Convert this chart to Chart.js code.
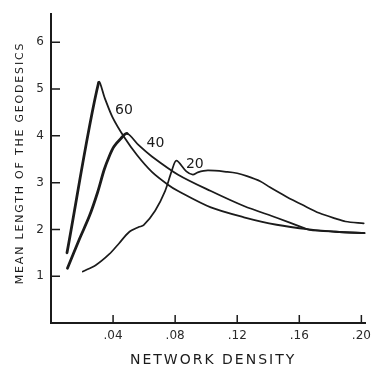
<!DOCTYPE html>
<html>
<head>
<meta charset="utf-8">
<script src="https://cdn.jsdelivr.net/npm/chart.js@4.4.1/dist/chart.umd.min.js"></script>
<style>
  html, body { margin: 0; padding: 0; background: #fff; }
  #wrap { width: 377px; height: 370px; }
</style>
</head>
<body>
<div id="wrap"><canvas id="geodesics-chart"></canvas></div>
<script>
// network sizes, one curve each
const seriesNames = ["60", "40", "20"];

const density60 = [0.0103, 0.0307, 0.0347, 0.0396, 0.0470, 0.0554, 0.0650, 0.0756, 0.0819, 0.1030, 0.1243, 0.1454, 0.1665, 0.1835, 0.2025];
const length60 = [1.50, 5.14, 4.80, 4.40, 3.98, 3.59, 3.23, 2.95, 2.82, 2.47, 2.26, 2.10, 2.00, 1.95, 1.92];

const density40 = [0.0106, 0.0184, 0.0248, 0.0300, 0.0343, 0.0375, 0.0406, 0.0449, 0.0491, 0.0565, 0.0650, 0.0819, 0.1030, 0.1243, 0.1454, 0.1623, 0.1665, 0.1835, 0.2025];
const length40 = [1.17, 1.80, 2.29, 2.79, 3.28, 3.56, 3.77, 3.94, 4.05, 3.80, 3.56, 3.17, 2.82, 2.50, 2.25, 2.04, 1.99, 1.95, 1.92];

const density20 = [0.0205, 0.0290, 0.0375, 0.0438, 0.0502, 0.0565, 0.0597, 0.0671, 0.0735, 0.0777, 0.0808, 0.0872, 0.0914, 0.0946, 0.1010, 0.1137, 0.1200, 0.1263, 0.1348, 0.1411, 0.1517, 0.1623, 0.1729, 0.1835, 0.1898, 0.2015];
const length20 = [1.10, 1.24, 1.47, 1.70, 1.94, 2.05, 2.09, 2.40, 2.82, 3.24, 3.47, 3.24, 3.17, 3.22, 3.26, 3.23, 3.20, 3.14, 3.03, 2.90, 2.70, 2.52, 2.35, 2.23, 2.17, 2.13];

const xTicks = [0.04, 0.08, 0.12, 0.16, 0.20];
const yTicks = [1, 2, 3, 4, 5, 6];

// where the size numbers are written next to the curves (data units)
const labelDensity = [0.047, 0.0673, 0.0927];
const labelLength = [4.55, 3.83, 3.39];

const ink = "#1b1b1b";
const fontFamily = "'DejaVu Sans', sans-serif";

function toPoints(xs, ys) {
  return xs.map((x, i) => ({ x: x, y: ys[i] }));
}

// short tick marks pointing into the plot
const inwardTicks = {
  id: "inwardTicks",
  afterDraw(chart) {
    const { ctx, chartArea, scales } = chart;
    ctx.save();
    ctx.strokeStyle = ink;
    ctx.lineWidth = 1.5;
    ctx.beginPath();
    scales.x.ticks.forEach((t) => {
      const px = scales.x.getPixelForValue(t.value);
      ctx.moveTo(px, chartArea.bottom);
      ctx.lineTo(px, chartArea.bottom - 8);
    });
    scales.y.ticks.forEach((t) => {
      const py = scales.y.getPixelForValue(t.value);
      ctx.moveTo(chartArea.left, py);
      ctx.lineTo(chartArea.left + 9, py);
    });
    ctx.stroke();
    ctx.restore();
  },
};

// widely spaced axis titles
const axisTitles = {
  id: "axisTitles",
  afterDraw(chart) {
    const { ctx, chartArea } = chart;
    ctx.save();
    ctx.fillStyle = ink;
    ctx.textAlign = "center";
    ctx.textBaseline = "middle";

    ctx.font = "14px " + fontFamily;
    ctx.letterSpacing = "2px";
    ctx.fillText("NETWORK DENSITY", (chartArea.left + chartArea.right) / 2 + 5, 360);

    ctx.font = "11px " + fontFamily;
    ctx.letterSpacing = "1.8px";
    ctx.translate(20, 163);
    ctx.rotate(-Math.PI / 2);
    ctx.fillText("MEAN LENGTH OF THE GEODESICS", 0, 0);
    ctx.restore();
  },
};

const curveLabels = {
  id: "curveLabels",
  afterDatasetsDraw(chart) {
    const { ctx, scales } = chart;
    ctx.save();
    ctx.fillStyle = ink;
    ctx.font = "14px " + fontFamily;
    ctx.textAlign = "center";
    ctx.textBaseline = "middle";
    seriesNames.forEach((name, i) => {
      ctx.fillText(name, scales.x.getPixelForValue(labelDensity[i]), scales.y.getPixelForValue(labelLength[i]));
    });
    ctx.restore();
  },
};

// rising parts of the 60 and 40 curves are drawn heavier
const thick = (upTo) => (c) => (c.p0DataIndex < upTo ? 2.8 : 1.8);

const lineStyle = {
  borderColor: ink,
  pointRadius: 0,
  borderCapStyle: "round",
  borderJoinStyle: "round",
};

new Chart(document.getElementById("geodesics-chart"), {
  type: "line",
  data: {
    datasets: [
      {
        ...lineStyle,
        label: seriesNames[0],
        data: toPoints(density60, length60),
        borderWidth: 1.8,
        segment: { borderWidth: thick(1) },
        tension: 0.3,
      },
      {
        ...lineStyle,
        label: seriesNames[1],
        data: toPoints(density40, length40),
        borderWidth: 1.8,
        segment: { borderWidth: thick(8) },
        tension: 0.3,
      },
      {
        ...lineStyle,
        label: seriesNames[2],
        data: toPoints(density20, length20),
        borderWidth: 1.7,
        tension: 0.3,
      },
    ],
  },
  options: {
    responsive: true,
    maintainAspectRatio: false,
    animation: false,
    layout: { padding: { top: 9, right: 7, left: 0, bottom: 0 } },
    plugins: {
      legend: { display: false },
      tooltip: { enabled: false },
    },
    scales: {
      x: {
        type: "linear",
        min: 0,
        max: 0.2025,
        afterBuildTicks: (s) => { s.ticks = xTicks.map((v) => ({ value: v })); },
        afterFit: (s) => { s.height = 47; },
        ticks: {
          autoSkip: false,
          maxRotation: 0,
          padding: 6,
          color: "#2a2a2a",
          font: { family: fontFamily, size: 12 },
          callback: (v) => v.toFixed(2).replace(/^0/, ""),
        },
        grid: { display: false, drawTicks: false, tickLength: 0 },
        border: { display: true, color: ink, width: 2 },
      },
      y: {
        min: 0,
        max: 6.6,
        afterBuildTicks: (s) => { s.ticks = yTicks.map((v) => ({ value: v })); },
        afterFit: (s) => { s.width = 51; },
        ticks: {
          padding: 7,
          color: "#2a2a2a",
          font: { family: fontFamily, size: 12 },
        },
        grid: { display: false, drawTicks: false, tickLength: 0 },
        border: { display: true, color: ink, width: 2 },
      },
    },
  },
  plugins: [inwardTicks, axisTitles, curveLabels],
});
</script>
</body>
</html>
